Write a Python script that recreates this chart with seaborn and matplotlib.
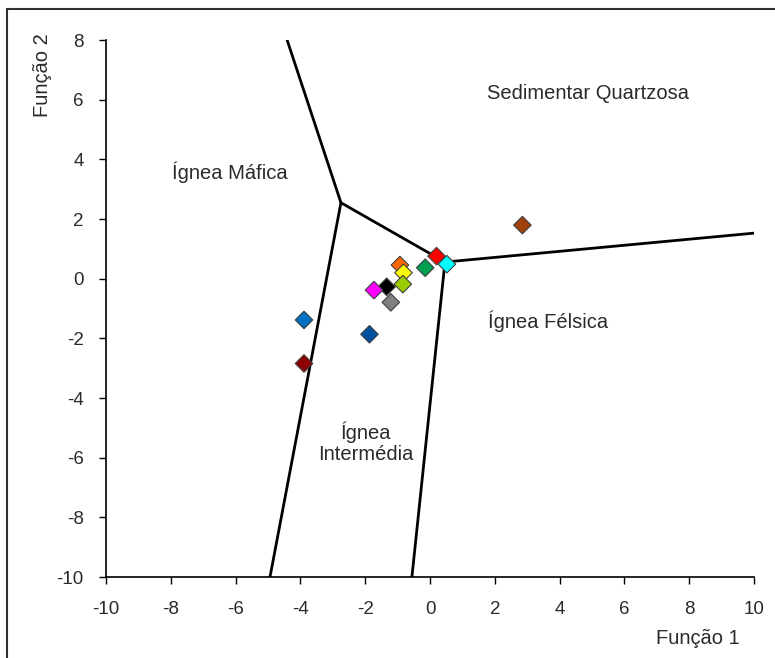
import matplotlib
matplotlib.use("Agg")
import matplotlib.pyplot as plt
import seaborn as sns
import pandas as pd
from matplotlib.patches import Rectangle

sns.set_theme(style="white")
plt.rcParams['font.family'] = ['Liberation Sans', 'DejaVu Sans']
plt.rcParams['axes.unicode_minus'] = False

# Sample points (Função 1, Função 2)
samples = ["s1", "s2", "s3", "s4", "s5", "s6", "s7", "s8", "s9", "s10", "s11", "s12", "s13"]
f1 = [2.85, 0.2, 0.52, -0.15, -0.93, -0.82, -0.84, -1.34, -1.73, -1.21, -3.89, -1.87, -3.89]
f2 = [1.8, 0.76, 0.49, 0.37, 0.46, 0.2, -0.18, -0.27, -0.38, -0.79, -1.38, -1.86, -2.84]
colors = ["#A0400A", "#FF0000", "#00FFFF", "#00A050", "#FF6600", "#FFFF00", "#99CC00",
          "#000000", "#FF00FF", "#808080", "#0070C0", "#0050A0", "#8B0000"]

# Field boundary lines
j1 = (-2.75, 2.55)
j2 = (0.46, 0.56)
boundaries = {
    "upper_left": [(-4.41, 8.0), j1],
    "lower_left": [j1, (-4.94, -10.0)],
    "middle": [j1, j2],
    "right": [j2, (10.0, 1.53)],
    "lower_right": [j2, (-0.56, -10.0)],
}

fig = plt.figure(figsize=(7.75, 6.58), dpi=100)
ax = fig.add_axes([0.1368, 0.123, 0.973 - 0.1368, 0.939 - 0.123])

for name, pts in boundaries.items():
    xs = [p[0] for p in pts]
    ys = [p[1] for p in pts]
    sns.lineplot(x=xs, y=ys, ax=ax, color="black", linewidth=2, sort=False,
                 estimator=None, legend=False, zorder=2)

df = pd.DataFrame({"s": samples, "x": f1, "y": f2})
sns.scatterplot(data=df, x="x", y="y", hue="s", palette=colors, marker="D", s=80,
                edgecolor="#404040", linewidth=0.8, ax=ax, legend=False, zorder=3)

ax.set_xlim(-10, 10)
ax.set_ylim(-10, 8)
ax.set_xticks(range(-10, 11, 2))
ax.set_yticks(range(-10, 9, 2))
for s in ["top", "right"]:
    ax.spines[s].set_visible(False)
for s in ["left", "bottom"]:
    ax.spines[s].set_color("black")
    ax.spines[s].set_linewidth(1.2)
ax.tick_params(axis="both", direction="out", length=5, width=1, color="black",
               labelsize=13.5, labelcolor="#2a2a2a", bottom=True, left=True)
ax.tick_params(axis="x", pad=12)
ax.tick_params(axis="y", pad=11)
ax.set_xlabel("")
ax.set_ylabel("")

fs = 14.5
tc = "#2a2a2a"
ax.text(4.88, 6.2, "Sedimentar Quartzosa", ha="center", va="center", fontsize=fs, color=tc)
ax.text(-6.17, 3.57, "Ígnea Máfica", ha="center", va="center", fontsize=fs, color=tc)
ax.text(3.64, -1.42, "Ígnea Félsica", ha="center", va="center", fontsize=fs, color=tc)
ax.text(-1.98, -5.5, "Ígnea\nIntermédia", ha="center", va="center", fontsize=fs,
        color=tc, linespacing=1.1)

fig.text(698 / 775, 1 - 638 / 658, "Função 1", ha="center", va="center", fontsize=fs, color=tc)
fig.text(43 / 775, 1 - 75 / 658, "Função 2", ha="center", va="center", rotation=90,
         fontsize=fs, color=tc)

fig.patches.append(Rectangle((7 / 775, -0.1), 1.2, 1 - 9 / 658 + 0.1, transform=fig.transFigure,
                             fill=False, edgecolor="#303030", linewidth=1.5, zorder=10))

fig.savefig("out.png", dpi=100)
